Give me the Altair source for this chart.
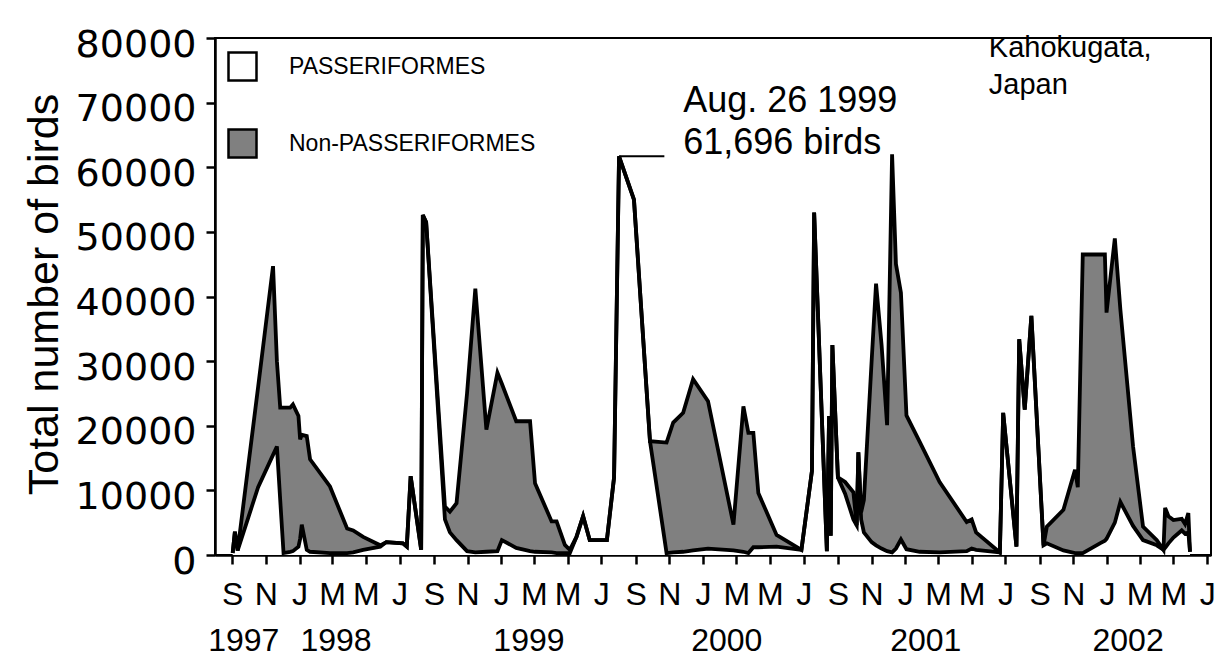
import altair as alt
import pandas as pd

# ---- data ----
dates = [
    "1997-09-02", "1997-09-06", "1997-09-11", "1997-10-18", "1997-11-14", "1997-11-21",
    "1997-11-27", "1997-12-03", "1997-12-15", "1997-12-20", "1997-12-30", "1998-01-02",
    "1998-01-05", "1998-01-14", "1998-01-20", "1998-02-25", "1998-03-28", "1998-04-08",
    "1998-04-26", "1998-05-27", "1998-06-07", "1998-07-07", "1998-07-14", "1998-07-21",
    "1998-08-09", "1998-08-12", "1998-08-18", "1998-09-21", "1998-09-30", "1998-10-12",
    "1998-10-31", "1998-11-15", "1998-12-05", "1998-12-25", "1999-01-02", "1999-01-28",
    "1999-02-22", "1999-03-03", "1999-04-02", "1999-04-11", "1999-04-26", "1999-05-05",
    "1999-05-17", "1999-05-29", "1999-06-10", "1999-07-11", "1999-07-24", "1999-08-02",
    "1999-08-29", "1999-09-27", "1999-10-27", "1999-11-08", "1999-11-26", "1999-12-14",
    "2000-01-10", "2000-02-25", "2000-03-14", "2000-03-23", "2000-04-01", "2000-04-10",
    "2000-05-13", "2000-06-27", "2000-07-16", "2000-07-20", "2000-08-12", "2000-08-16",
    "2000-08-19", "2000-08-22", "2000-09-01", "2000-09-14", "2000-09-29", "2000-10-05",
    "2000-10-08", "2000-10-13", "2000-10-18", "2000-11-01", "2000-11-09", "2000-11-19",
    "2000-11-29", "2000-12-08", "2000-12-15", "2000-12-24", "2001-01-03", "2001-01-27",
    "2001-03-04", "2001-04-22", "2001-05-01", "2001-05-09", "2001-06-21", "2001-06-27",
    "2001-07-03", "2001-07-21", "2001-07-26", "2001-08-05", "2001-08-17", "2001-09-08",
    "2001-09-14", "2001-10-14", "2001-11-04", "2001-11-09", "2001-11-18", "2001-12-19",
    "2001-12-28", "2001-12-31", "2002-01-15", "2002-01-25", "2002-02-17", "2002-03-07",
    "2002-04-01", "2002-04-13", "2002-04-16", "2002-04-22", "2002-05-01", "2002-05-16",
    "2002-05-22", "2002-05-28", "2002-05-31",
]

total_birds = [
    300, 3600, 700, 26000, 44700, 30000,
    22800, 22800, 22800, 23300, 21500, 17900,
    18600, 18400, 14800, 10600, 4100, 3800,
    2800, 1500, 2000, 1800, 1300, 12200,
    800, 52600, 51500, 7500, 6700, 8000,
    25000, 41200, 19400, 28200, 26500, 20700,
    20700, 11100, 5200, 5200, 1550, 800,
    2800, 6000, 2300, 2300, 12000, 61696,
    55000, 17600, 17400, 20500, 22000, 27200,
    23800, 4700, 23000, 18900, 18900, 9600,
    3100, 800, 13000, 53000, 600, 21500,
    3000, 32500, 12000, 11300, 9700, 4600,
    15900, 6600, 8500, 30000, 42000, 32500,
    20100, 62000, 45000, 40600, 21600, 17500,
    11300, 5100, 5500, 3500, 400, 22000,
    16800, 1300, 33400, 22500, 37000, 1500,
    4400, 7000, 13200, 10500, 46500, 46500,
    46500, 37500, 49000, 38000, 16800, 4400,
    2300, 800, 7300, 6000, 5400, 5600,
    4800, 6500, 500,
]

passeriformes = [
    300, 3600, 700, 10500, 15500, 16800,
    8500, 300, 500, 600, 1300, 2500,
    4700, 800, 500, 300, 300, 400,
    800, 1300, 2000, 1800, 1300, 12200,
    800, 52600, 51500, 5500, 3500, 2300,
    600, 400, 500, 600, 2300, 1100,
    600, 500, 400, 300, 300, 300,
    2800, 6000, 2300, 2300, 12000, 61696,
    55000, 17600, 300, 400, 500, 700,
    1000, 700, 500, 300, 1200, 1200,
    1300, 800, 13000, 53000, 600, 21500,
    3000, 32500, 12000, 9500, 5500, 4600,
    15900, 5500, 3500, 2000, 1500, 1000,
    600, 400, 1000, 2400, 900, 500,
    400, 600, 1000, 800, 400, 22000,
    16800, 1300, 33400, 22500, 37000, 1500,
    1800, 700, 300, 300, 300, 1800,
    2200, 2500, 5000, 8200, 4500, 2300,
    1500, 800, 1100, 1800, 2700, 3800,
    3300, 3500, 500,
]

series_names = ["PASSERIFORMES", "Non-PASSERIFORMES"]
series_fills = ["white", "#808080"]

month_tick_dates = [
    (1997, 9), (1997, 11), (1998, 1), (1998, 3), (1998, 5), (1998, 7),
    (1998, 9), (1998, 11), (1999, 1), (1999, 3), (1999, 5), (1999, 7),
    (1999, 9), (1999, 11), (2000, 1), (2000, 3), (2000, 5), (2000, 7),
    (2000, 9), (2000, 11), (2001, 1), (2001, 3), (2001, 5), (2001, 7),
    (2001, 9), (2001, 11), (2002, 1), (2002, 3), (2002, 5), (2002, 7),
]
year_labels = ["1997", "1998", "1999", "2000", "2001", "2002"]
year_label_dates = ["1997-09-22", "1998-03-08", "1999-02-20", "2000-02-13", "2001-02-07", "2002-02-08"]

y_ticks = [0, 10000, 20000, 30000, 40000, 50000, 60000, 70000, 80000]

peak_date = "1999-08-02"
peak_value = 61696
leader_end_date = "1999-10-23"
annot_texts = ["Aug. 26 1999", "61,696 birds"]
annot_dates = ["1999-11-26", "1999-11-26"]
annot_values = [70300, 63700]

place_texts = ["Kahokugata,", "Japan"]
place_dates = ["2001-06-01", "2001-06-01"]
place_values = [78500, 72700]

# ---- tables ----
df = pd.DataFrame({"date": pd.to_datetime(dates), "total": total_birds, "passer": passeriformes})
area_df = pd.concat([
    pd.DataFrame({"date": df["date"], "lo": 0, "hi": df["passer"], "group": series_names[0]}),
    pd.DataFrame({"date": df["date"], "lo": df["passer"], "hi": df["total"], "group": series_names[1]}),
], ignore_index=True)

years_df = pd.DataFrame({"date": pd.to_datetime(year_label_dates), "label": year_labels})
leader_df = pd.DataFrame({"d1": pd.to_datetime([peak_date]), "d2": pd.to_datetime([leader_end_date]),
                          "v": [peak_value]})
annot_df = pd.DataFrame({"date": pd.to_datetime(annot_dates), "v": annot_values, "t": annot_texts})
place_df = pd.DataFrame({"date": pd.to_datetime(place_dates), "v": place_values, "t": place_texts})

x_scale = alt.Scale(domain=[alt.DateTime(year=1997, month=8, date=1),
                            alt.DateTime(year=2002, month=7, date=8)])
y_scale = alt.Scale(domain=[0, 80000], nice=False, zero=True)

x_axis = alt.Axis(
    values=[alt.DateTime(year=y, month=m, date=1) for (y, m) in month_tick_dates],
    labelExpr="substring(timeFormat(datum.value, '%b'), 0, 1)",
    title=None, tickSize=9, labelPadding=15, labelFont="Liberation Sans",
    labelFontSize=32, labelFlush=False, labelOverlap=False, labelBound=False,
    labelSeparation=0, grid=False,
)
y_axis = alt.Axis(
    values=y_ticks, format="d", title="Total number of birds",
    tickSize=9, labelPadding=10, labelOffset=7, labelFont="DejaVu Sans", labelFontSize=38,
    titleFont="Liberation Sans", titleFontSize=43, titleFontWeight="normal",
    titleX=-158, titleY=256, titleAlign="center", titleBaseline="alphabetic", titleAngle=270,
    grid=False, labelOverlap=False,
)

X = alt.X("date:T", scale=x_scale, axis=x_axis)

areas = alt.Chart(area_df).mark_area(opacity=1, interpolate="linear").encode(
    x=X,
    y=alt.Y("lo:Q", scale=y_scale, axis=y_axis, stack=None),
    y2="hi:Q",
    fill=alt.Fill("group:N", scale=alt.Scale(domain=series_names, range=series_fills),
                  legend=alt.Legend(
                      title=None, orient="none", legendX=12, legendY=13,
                      symbolType="square", symbolSize=784, symbolStrokeColor="black",
                      symbolStrokeWidth=2.5, symbolOpacity=1,
                      labelFont="Liberation Sans", labelFontSize=23, labelLimit=400,
                      labelOffset=31, rowPadding=38, padding=0, labelColor="black",
                  )),
    detail="group:N",
)

line_total = alt.Chart(df).mark_line(color="black", strokeWidth=3.8, strokeJoin="miter").encode(
    x=X, y=alt.Y("total:Q", scale=y_scale, axis=y_axis),
)
line_passer = alt.Chart(df).mark_line(color="black", strokeWidth=3.8, strokeJoin="miter").encode(
    x=X, y=alt.Y("passer:Q", scale=y_scale, axis=y_axis),
)

leader = alt.Chart(leader_df).mark_rule(color="black", strokeWidth=2).encode(
    x=alt.X("d1:T", scale=x_scale, axis=x_axis), x2="d2:T",
    y=alt.Y("v:Q", scale=y_scale, axis=y_axis),
)
annot = alt.Chart(annot_df).mark_text(
    align="left", baseline="middle", font="Liberation Sans", fontSize=36, color="black"
).encode(x=alt.X("date:T", scale=x_scale, axis=x_axis),
         y=alt.Y("v:Q", scale=y_scale, axis=y_axis), text="t:N")

place = alt.Chart(place_df).mark_text(
    align="left", baseline="middle", font="Liberation Sans", fontSize=29, color="black"
).encode(x=alt.X("date:T", scale=x_scale, axis=x_axis),
         y=alt.Y("v:Q", scale=y_scale, axis=y_axis), text="t:N")

years = alt.Chart(years_df).mark_text(
    align="center", baseline="middle", font="Liberation Sans", fontSize=32, color="black"
).encode(x=alt.X("date:T", scale=x_scale, axis=x_axis), y=alt.value(603), text="label:N")

chart = alt.layer(areas, line_passer, line_total, leader, annot, place, years).properties(
    width=996, height=517,
    autosize=alt.AutoSizeParams(type="none"),
    padding={"left": 215, "top": 38, "right": 14, "bottom": 106},
    background="white",
).configure_view(
    stroke="black", strokeWidth=2,
).configure_axis(
    domainColor="black", domainWidth=2.5, tickColor="black", tickWidth=2.5, labelColor="black",
    titleColor="black",
).configure_axisX(
    labelOverlap=False,
)

chart.save("out.html", embed_options={"renderer": "svg", "actions": False})
